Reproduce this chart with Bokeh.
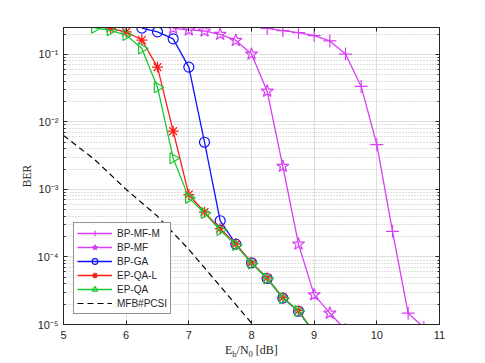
import numpy as np
from bokeh.plotting import figure
from bokeh.layouts import column
from bokeh.models import (LogAxis, LinearAxis, FixedTicker, CustomJSTickFormatter,
                          Legend, LegendItem, Range1d, CustomLabelingPolicy, Div)
from bokeh.embed import file_html
from bokeh.resources import INLINE

# ---------------- data ----------------
x_bpmfm = [8.25, 8.5, 8.75, 9.0, 9.25, 9.5, 9.75, 10.0, 10.25, 10.5, 10.75]
y_bpmfm = [0.242, 0.225, 0.21, 0.19, 0.158, 0.101, 0.0335, 0.0046, 2.4e-4, 1.47e-5, 9e-6]

x_bpmf = [6.75, 7.0, 7.25, 7.5, 7.75, 8.0, 8.25, 8.5, 8.75, 9.0, 9.25, 9.5]
y_bpmf = [0.243, 0.230, 0.222, 0.198, 0.161, 0.101, 0.0285, 0.0022, 1.55e-4, 2.75e-5, 1.47e-5, 8.3e-6]

x_bpga = [6.25, 6.5, 6.75, 7.0, 7.25, 7.5, 7.75, 8.0, 8.25, 8.5, 8.75, 9.0]
y_bpga = [0.245, 0.216, 0.170, 0.0648, 0.0050, 3.44e-4, 1.55e-4, 8.2e-5, 4.8e-5, 2.46e-5, 1.57e-5, 7.5e-6]

x_epqal = [5.75, 6.0, 6.25, 6.5, 6.75, 7.0, 7.25, 7.5, 7.75, 8.0, 8.25, 8.5, 8.75, 9.0]
y_epqal = [0.243, 0.215, 0.163, 0.0648, 0.0073, 8.4e-4, 4.6e-4, 2.62e-4, 1.55e-4, 8.2e-5, 4.9e-5, 2.5e-5, 1.6e-5, 7.6e-6]

x_epqa = [5.5, 5.75, 6.0, 6.25, 6.5, 6.75, 7.0, 7.25, 7.5, 7.75, 8.0, 8.25, 8.5, 8.75, 9.0]
y_epqa = [0.248, 0.227, 0.193, 0.122, 0.0327, 0.0029, 7.5e-4, 4.47e-4, 2.5e-4, 1.5e-4, 8.0e-5, 4.8e-5, 2.45e-5, 1.58e-5, 7.5e-6]

x_mfb = [5.0, 5.5, 6.0, 6.5, 7.0, 7.5, 8.0, 8.5]
y_mfb = [6.3e-3, 2.75e-3, 1.0e-3, 4.0e-4, 1.29e-4, 3.7e-5, 1.05e-5, 2.8e-6]

x_ticks = [5, 6, 7, 8, 9, 10, 11]
y_ticks = [1e-5, 1e-4, 1e-3, 1e-2, 1e-1]
y_minor = [m * d for d in [1e-5, 1e-4, 1e-3, 1e-2, 1e-1] for m in range(2, 10)]

series_names = ["BP-MF-M", "BP-MF", "BP-GA", "EP-QA-L", "EP-QA", "MFB#PCSI"]

MAG = "#D83FF5"
BLUE = "#1010FF"
RED = "#FF1A1A"
GREEN = "#19C832"
AXC = "#262626"
SANS = "Liberation Sans"
SERIF = "Liberation Serif"

p = figure(frame_width=376, frame_height=297,
           x_range=Range1d(5, 11), y_range=Range1d(1e-5, 0.25),
           y_axis_type="log", output_backend="svg", toolbar_location=None,
           min_border_left=63, min_border_top=27, min_border_right=40,
           min_border_bottom=24, background_fill_color="white",
           border_fill_color="white", margin=0)
p.outline_line_color = AXC
p.outline_line_width = 1

xt = FixedTicker(ticks=x_ticks)
yt = FixedTicker(ticks=y_ticks, minor_ticks=y_minor)
fmt = CustomJSTickFormatter(code="""
const e = Math.round(Math.log10(tick));
const sup = {'-':'\u207B','0':'\u2070','1':'\u00B9','2':'\u00B2','3':'\u00B3','4':'\u2074','5':'\u2075','6':'\u2076','7':'\u2077','8':'\u2078','9':'\u2079'};
return '10' + String(e).split('').map(c => sup[c]).join('');
""")

# bottom axis
xa = p.xaxis[0]
xa.ticker = xt
xa.major_label_text_font = SANS
xa.major_label_text_font_size = "11px"
xa.major_label_text_color = AXC
xa.major_label_standoff = 6
xa.major_tick_in = 4
xa.major_tick_out = 0
xa.minor_tick_in = 0
xa.minor_tick_out = 0
xa.axis_line_color = AXC
xa.major_tick_line_color = AXC

# left axis
ya = p.yaxis[0]
ya.ticker = yt
ya.formatter = fmt
ya.major_label_text_font = SANS
ya.major_label_text_font_size = "11px"
ya.major_label_text_color = AXC
ya.major_label_standoff = 5
ya.major_tick_in = 4
ya.major_tick_out = 0
ya.minor_tick_in = 2
ya.minor_tick_out = 0
ya.axis_line_color = AXC
ya.major_tick_line_color = AXC
ya.minor_tick_line_color = AXC
ya.axis_label = "BER"
ya.axis_label_text_font = SERIF
ya.axis_label_text_font_style = "normal"
ya.axis_label_text_font_size = "11.5px"
ya.axis_label_text_color = AXC
ya.axis_label_standoff = 2

# top and right axes (ticks only, no labels)
top = LinearAxis(ticker=xt, major_label_policy=CustomLabelingPolicy(code="return []"),
                 major_tick_in=4, major_tick_out=0, minor_tick_in=0, minor_tick_out=0,
                 axis_line_color=AXC, major_tick_line_color=AXC, major_label_standoff=0)
p.add_layout(top, "above")
right = LogAxis(ticker=yt, major_label_policy=CustomLabelingPolicy(code="return []"),
                major_tick_in=4, major_tick_out=0, minor_tick_in=2, minor_tick_out=0,
                axis_line_color=AXC, major_tick_line_color=AXC,
                minor_tick_line_color=AXC, major_label_standoff=0)
p.add_layout(right, "right")

# grids
p.xgrid.ticker = xt
p.xgrid.grid_line_color = "#DEDEDE"
p.xgrid.grid_line_width = 1
p.ygrid.ticker = yt
p.ygrid.grid_line_color = "#DEDEDE"
p.ygrid.minor_grid_line_color = "#BDBDBD"
p.ygrid.minor_grid_line_dash = "1 2"
p.ygrid.minor_grid_line_width = 1

LW = 1.3
items = []

l1 = p.line(x_bpmfm, y_bpmfm, line_color=MAG, line_width=LW)
s1 = p.scatter(x_bpmfm, y_bpmfm, marker="cross", size=13, line_color=MAG, line_width=1.2)
items.append(LegendItem(label=series_names[0], renderers=[l1, s1]))

l2 = p.line(x_bpmf, y_bpmf, line_color=MAG, line_width=LW)
s2 = p.scatter(x_bpmf, y_bpmf, marker="star", size=13, line_color=MAG, fill_color=None, line_width=1.2)
items.append(LegendItem(label=series_names[1], renderers=[l2, s2]))

l3 = p.line(x_bpga, y_bpga, line_color=BLUE, line_width=LW)
s3 = p.scatter(x_bpga, y_bpga, marker="circle", size=10, line_color=BLUE, fill_color=None, line_width=1.2)
items.append(LegendItem(label=series_names[2], renderers=[l3, s3]))

l4 = p.line(x_epqal, y_epqal, line_color=RED, line_width=LW)
s4 = p.scatter(x_epqal, y_epqal, marker="asterisk", size=11, line_color=RED, line_width=1.3)
items.append(LegendItem(label=series_names[3], renderers=[l4, s4]))

l5 = p.line(x_epqa, y_epqa, line_color=GREEN, line_width=LW)
s5 = p.scatter(x_epqa, y_epqa, marker="triangle", size=11, angle=-np.pi / 2,
               line_color=GREEN, fill_color=None, line_width=1.2)
items.append(LegendItem(label=series_names[4], renderers=[l5, s5]))

l6 = p.line(x_mfb, y_mfb, line_color="black", line_width=1.2, line_dash="6 4")
items.append(LegendItem(label=series_names[5], renderers=[l6]))

leg = Legend(items=items, location="bottom_left", margin=10, padding=3, spacing=0,
             glyph_width=35, glyph_height=14, label_height=14, label_standoff=5,
             label_text_font=SANS, label_text_font_size="10px", label_text_color=AXC,
             border_line_color=AXC, border_line_width=1, background_fill_alpha=1)
p.add_layout(leg)

# x-axis label with real subscripts: E_b/N_0 [dB]
sub = 'style="font-size:8.5px;vertical-align:-3px;line-height:0"'
xlabel = Div(text=f'E<sub {sub}>b</sub>/N<sub {sub}>0</sub> [dB]',
             styles={"font-family": SERIF, "font-size": "12px", "line-height": "12px",
                     "color": AXC, "white-space": "nowrap"},
             width=90, height=14, margin=(-4, 0, 0, 225))

layout = column(p, xlabel, spacing=0, margin=0)
open("out.html", "w").write(file_html(layout, INLINE))
